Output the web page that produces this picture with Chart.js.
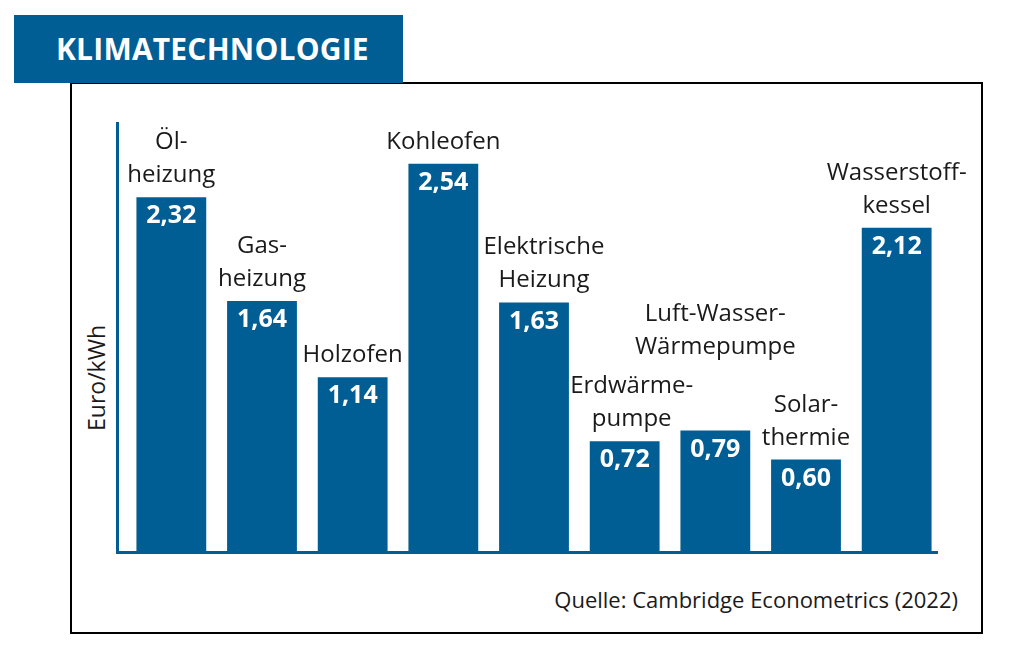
<!DOCTYPE html>
<html lang="de">
<head>
<meta charset="utf-8">
<title>Klimatechnologie</title>
<script src="https://cdn.jsdelivr.net/npm/chart.js@4.4.1/dist/chart.umd.min.js"></script>
<style>
    html, body { margin: 0; padding: 0; background: #fff; }
    body {
        width: 1011px; height: 653px; position: relative; overflow: hidden;
        font-family: "Open Sans", sans-serif; color: #1a1a1a;
    }
    #frame {
        position: absolute; left: 70px; top: 82px; width: 913px; height: 552px;
        box-sizing: border-box; border: 2px solid #000;
    }
    #title {
        position: absolute; left: 14px; top: 15px; width: 389px; height: 68px;
        background: #005e94; color: #fff; font-weight: 700; font-size: 30px;
        line-height: 68px; padding-left: 42px; box-sizing: border-box; letter-spacing: 0.2px;
    }
    #ytitle {
        position: absolute; left: 96px; top: 378px; font-size: 23px;
        transform: translate(-50%, -50%) rotate(-90deg); white-space: nowrap;
    }
    #source {
        position: absolute; right: 53px; top: 584px; font-size: 22px; white-space: nowrap;
    }
    #chart { position: absolute; left: 0; top: 0; }
</style>
</head>
<body>
<div id="frame"></div>
<div id="title">KLIMATECHNOLOGIE</div>
<div id="ytitle">Euro/kWh</div>
<div id="source">Quelle: Cambridge Econometrics (2022)</div>
<canvas id="chart" width="1011" height="653"></canvas>

<script>
    // Chart data
    const categories = [
        ['Öl-', 'heizung'],
        ['Gas-', 'heizung'],
        ['Holzofen'],
        ['Kohleofen'],
        ['Elektrische', 'Heizung'],
        ['Erdwärme-', 'pumpe'],
        ['Luft-Wasser-', 'Wärmepumpe'],
        ['Solar-', 'thermie'],
        ['Wasserstoff-', 'kessel']
    ];
    const costs = [2.32, 1.64, 1.14, 2.54, 1.63, 0.72, 0.79, 0.60, 2.12];
    const yMax = 2.8;

    const barColor = '#005e94';
    // Label nudges so neighbouring names don't collide
    const labelExtraLift = { 6: 62 };
    const labelShiftX = { 4: 10, 5: 7 };

    // Draws the axis lines, category names above bars and values inside bars
    const barLabels = {
        id: 'barLabels',
        afterDatasetsDraw: function (chart) {
            const ctx = chart.ctx;
            const area = chart.chartArea;
            const meta = chart.getDatasetMeta(0);

            ctx.save();
            ctx.strokeStyle = barColor;
            ctx.lineWidth = 3;
            ctx.beginPath();
            ctx.moveTo(area.left - 8.5, area.top - 2);
            ctx.lineTo(area.left - 8.5, area.bottom + 3);
            ctx.moveTo(area.left - 10, area.bottom + 1.5);
            ctx.lineTo(area.right - 4, area.bottom + 1.5);
            ctx.stroke();

            ctx.textAlign = 'center';
            meta.data.forEach(function (bar, i) {
                // value inside the bar
                ctx.fillStyle = '#ffffff';
                ctx.font = '700 25px "Open Sans"';
                ctx.textBaseline = 'middle';
                ctx.fillText(costs[i].toFixed(2).replace('.', ','), bar.x, bar.y + 19);

                // category name above the bar
                ctx.fillStyle = '#1a1a1a';
                ctx.font = '400 24px "Open Sans"';
                ctx.textBaseline = 'alphabetic';
                const lines = categories[i];
                const x = bar.x + (labelShiftX[i] || 0);
                const base = bar.y - 15 - (labelExtraLift[i] || 0);
                lines.forEach(function (line, j) {
                    ctx.fillText(line, x, base - (lines.length - 1 - j) * 33);
                });
            });
            ctx.restore();
        }
    };

    new Chart(document.getElementById('chart').getContext('2d'), {
        type: 'bar',
        data: {
            labels: categories.map(function (c) { return c.join(' '); }),
            datasets: [{
                data: costs,
                backgroundColor: barColor,
                borderWidth: 0,
                barPercentage: 0.77,
                categoryPercentage: 1
            }]
        },
        options: {
            responsive: false,
            animation: false,
            devicePixelRatio: 1,
            layout: {
                padding: { left: 126, right: 69, top: 124, bottom: 102 }
            },
            plugins: {
                legend: { display: false },
                title: { display: false },
                tooltip: { enabled: false }
            },
            scales: {
                x: { display: false },
                y: { display: false, min: 0, max: yMax }
            }
        },
        plugins: [barLabels]
    });
</script>
</body>
</html>
